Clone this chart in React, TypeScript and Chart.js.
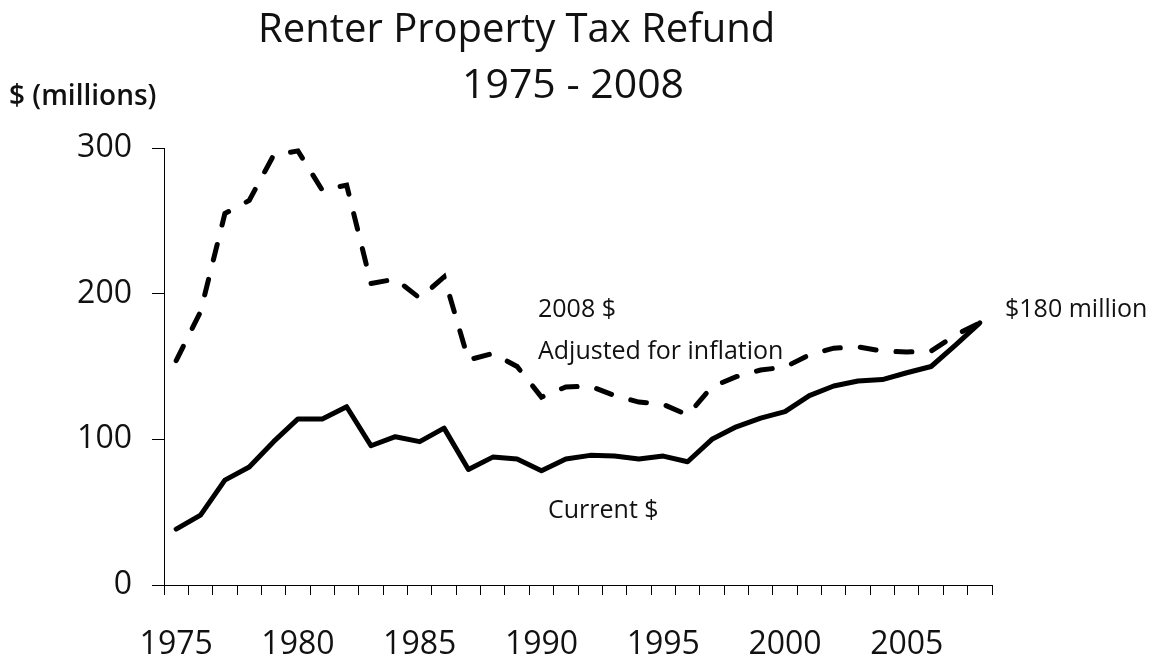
import React, { useEffect, useRef } from 'react';
import { Chart, registerables } from 'chart.js';

Chart.register(...registerables);

const years = [
  '1975', '1976', '1977', '1978', '1979', '1980', '1981', '1982', '1983', '1984',
  '1985', '1986', '1987', '1988', '1989', '1990', '1991', '1992', '1993', '1994',
  '1995', '1996', '1997', '1998', '1999', '2000', '2001', '2002', '2003', '2004',
  '2005', '2006', '2007', '2008',
];

const currentDollars = [
  38.4, 48, 72, 81, 98.4, 114, 114, 122.4, 95.6, 101.8,
  98.4, 107.7, 79.3, 87.8, 86.5, 78.5, 86.5, 89, 88.5, 86.5,
  88.5, 84.6, 100, 108.6, 114.6, 119, 130, 136.6, 140, 141,
  145.7, 150, 164.7, 180,
];

const inflationAdjusted = [
  154, 187.6, 255, 264, 295, 298, 271, 274.5, 207, 210,
  197, 211.5, 154.5, 159, 150, 129, 136, 136.6, 130, 125.6,
  124, 116.7, 136, 143, 147.6, 149.6, 158, 162.6, 163.5, 160.6,
  160, 160.6, 171.6, 180,
];

const labeledYears = ['1975', '1980', '1985', '1990', '1995', '2000', '2005'];
const yMin = 0;
const yMax = 300;
const yStep = 100;

const titleLine1 = 'Renter Property Tax Refund';
const titleLine2 = '1975 - 2008';
const yAxisTitle = '$ (millions)';
const adjustedNote1 = '2008 $';
const adjustedNote2 = 'Adjusted for inflation';
const currentNote = 'Current $';
const endNote = '$180 million';

const FONT = '"Open Sans", "Noto Sans", sans-serif';
const TEXT = '#111';

const textPlugin = {
  id: 'textPlugin',
  afterDraw(chart: any) {
    const ctx = chart.ctx;
    ctx.save();
    ctx.fillStyle = TEXT;
    ctx.textAlign = 'left';
    ctx.textBaseline = 'alphabetic';
    ctx.font = `40px ${FONT}`;
    ctx.fillText(titleLine1, 258, 42);
    ctx.font = `41px ${FONT}`;
    ctx.fillText(titleLine2, 462, 98);
    ctx.font = `600 28px ${FONT}`;
    ctx.fillText(yAxisTitle, 9, 105);
    ctx.font = `25px ${FONT}`;
    ctx.fillText(adjustedNote1, 538, 317);
    ctx.fillText(adjustedNote2, 538, 359);
    ctx.fillText(currentNote, 548, 518);
    ctx.fillText(endNote, 1005, 317);
    ctx.restore();
  },
};

export default function App() {
  const canvasRef = useRef<HTMLCanvasElement | null>(null);

  useEffect(() => {
    if (!canvasRef.current) return;
    const chart = new Chart(canvasRef.current, {
      type: 'line',
      data: {
        labels: years,
        datasets: [
          {
            label: 'Current $',
            data: currentDollars,
            borderColor: '#000',
            borderWidth: 5,
            pointRadius: 0,
            tension: 0,
            borderJoinStyle: 'round',
            borderCapStyle: 'round',
            fill: false,
          },
          {
            label: '2008 $ Adjusted for inflation',
            data: inflationAdjusted,
            borderColor: '#000',
            borderWidth: 5,
            borderDash: [16, 20],
            borderCapStyle: 'round',
            pointRadius: 0,
            tension: 0,
            fill: false,
          },
        ],
      },
      options: {
        animation: false,
        responsive: true,
        maintainAspectRatio: false,
        layout: { padding: { top: 148, right: 167, left: 0, bottom: 0 } },
        plugins: {
          legend: { display: false },
          title: { display: false },
          tooltip: { enabled: false },
        },
        scales: {
          x: {
            type: 'category',
            offset: true,
            afterFit(scale: any) {
              scale.height = 75;
            },
            grid: {
              offset: true,
              drawOnChartArea: false,
              drawTicks: true,
              tickLength: 10,
              color: '#000',
              lineWidth: 1,
            },
            border: { display: true, color: '#000', width: 1 },
            ticks: {
              autoSkip: false,
              maxRotation: 0,
              minRotation: 0,
              padding: 31,
              color: TEXT,
              font: { family: FONT, size: 32 },
              callback(this: any, value: any) {
                const lab = this.getLabelForValue(value);
                return labeledYears.includes(lab) ? lab : '';
              },
            },
          },
          y: {
            min: yMin,
            max: yMax,
            afterFit(scale: any) {
              scale.width = 164;
            },
            grid: {
              drawOnChartArea: false,
              drawTicks: true,
              tickLength: 12,
              color: '#000',
              lineWidth: 1,
            },
            border: { display: true, color: '#000', width: 1 },
            ticks: {
              stepSize: yStep,
              padding: 20,
              color: TEXT,
              font: { family: FONT, size: 32 },
            },
          },
        },
      },
      plugins: [textPlugin],
    });
    return () => chart.destroy();
  }, []);

  return (
    <div style={{ position: 'fixed', left: 0, top: 0, width: 1159, height: 660, background: '#fff' }}>
      <canvas ref={canvasRef} />
    </div>
  );
}
